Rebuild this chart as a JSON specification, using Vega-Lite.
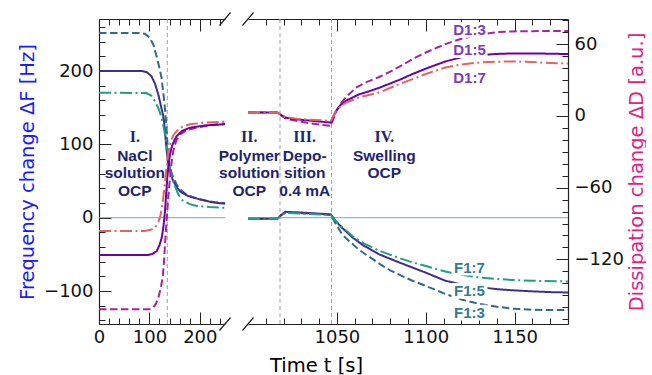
{
  "$schema": "https://vega.github.io/schema/vega-lite/v6.json",
  "padding": {"left": 17, "top": 10, "right": 0, "bottom": 0},
  "bounds": "flush",
  "spacing": 23,
  "config": {
    "view": {"stroke": null},
    "font": "DejaVu Sans",
    "axis": {
      "grid": false, "domainColor": "#222", "domainWidth": 1.2, "tickColor": "#222", "tickWidth": 1,
      "labelFont": "DejaVu Sans", "labelFontSize": 18, "labelColor": "#111",
      "titleFont": "DejaVu Sans", "titleFontSize": 19.5, "titleFontWeight": "normal",
      "labelFlush": false, "labelOverlap": false, "format": "d"
    }
  },
  "datasets": {
    "F": [
      {"s":"F1:3","t":0,"v":252},{"s":"F1:3","t":80,"v":252},{"s":"F1:3","t":91,"v":251},{"s":"F1:3","t":100,"v":246},{"s":"F1:3","t":108,"v":236},{"s":"F1:3","t":115,"v":218},{"s":"F1:3","t":120,"v":204},{"s":"F1:3","t":124,"v":191},{"s":"F1:3","t":128,"v":168},{"s":"F1:3","t":131,"v":148},{"s":"F1:3","t":133,"v":132},{"s":"F1:3","t":135,"v":110},{"s":"F1:3","t":137.5,"v":86},{"s":"F1:3","t":140,"v":72},{"s":"F1:3","t":143,"v":63},{"s":"F1:3","t":147.4,"v":55},{"s":"F1:3","t":155,"v":44},{"s":"F1:3","t":165,"v":36},{"s":"F1:3","t":175,"v":31},{"s":"F1:3","t":190,"v":27},{"s":"F1:3","t":210,"v":23.5},{"s":"F1:3","t":230,"v":21},{"s":"F1:3","t":250,"v":20},
      {"s":"F1:3","t":1000,"v":-1.5},{"s":"F1:3","t":1016.6,"v":-1.5},{"s":"F1:3","t":1018.5,"v":3},{"s":"F1:3","t":1021,"v":7},{"s":"F1:3","t":1030,"v":6},{"s":"F1:3","t":1040,"v":5},{"s":"F1:3","t":1046.6,"v":3.5},{"s":"F1:3","t":1049.5,"v":-9},{"s":"F1:3","t":1053,"v":-23},{"s":"F1:3","t":1057,"v":-32},{"s":"F1:3","t":1062,"v":-43},{"s":"F1:3","t":1068,"v":-53},{"s":"F1:3","t":1074,"v":-63},{"s":"F1:3","t":1080,"v":-72},{"s":"F1:3","t":1092.5,"v":-86},{"s":"F1:3","t":1100,"v":-93},{"s":"F1:3","t":1111,"v":-104},{"s":"F1:3","t":1120,"v":-111.5},{"s":"F1:3","t":1130,"v":-117.5},{"s":"F1:3","t":1140,"v":-121.5},{"s":"F1:3","t":1148.7,"v":-124},{"s":"F1:3","t":1160,"v":-125.5},{"s":"F1:3","t":1170,"v":-126},{"s":"F1:3","t":1180,"v":-126},
      {"s":"F1:5","t":0,"v":200},{"s":"F1:5","t":85,"v":200},{"s":"F1:5","t":95,"v":198.5},{"s":"F1:5","t":104,"v":193},{"s":"F1:5","t":111,"v":183},{"s":"F1:5","t":117.7,"v":168},{"s":"F1:5","t":123,"v":152},{"s":"F1:5","t":127,"v":140},{"s":"F1:5","t":129,"v":132},{"s":"F1:5","t":131.5,"v":113},{"s":"F1:5","t":134.3,"v":91},{"s":"F1:5","t":137,"v":76},{"s":"F1:5","t":140.9,"v":64},{"s":"F1:5","t":146,"v":52},{"s":"F1:5","t":152,"v":44},{"s":"F1:5","t":160.7,"v":36},{"s":"F1:5","t":175,"v":30},{"s":"F1:5","t":200,"v":25},{"s":"F1:5","t":225,"v":21},{"s":"F1:5","t":250,"v":19},
      {"s":"F1:5","t":1000,"v":-1.5},{"s":"F1:5","t":1016.6,"v":-1.5},{"s":"F1:5","t":1018.5,"v":3.5},{"s":"F1:5","t":1021,"v":8},{"s":"F1:5","t":1030,"v":7},{"s":"F1:5","t":1040,"v":5.5},{"s":"F1:5","t":1046.6,"v":4.5},{"s":"F1:5","t":1049.5,"v":-5},{"s":"F1:5","t":1053,"v":-14},{"s":"F1:5","t":1058.8,"v":-27},{"s":"F1:5","t":1065,"v":-38},{"s":"F1:5","t":1073.8,"v":-50},{"s":"F1:5","t":1085,"v":-61},{"s":"F1:5","t":1092.5,"v":-68},{"s":"F1:5","t":1100,"v":-75},{"s":"F1:5","t":1111,"v":-86},{"s":"F1:5","t":1120,"v":-91},{"s":"F1:5","t":1130,"v":-94.5},{"s":"F1:5","t":1140,"v":-97.5},{"s":"F1:5","t":1148.7,"v":-99},{"s":"F1:5","t":1160,"v":-100.5},{"s":"F1:5","t":1170,"v":-101.5},{"s":"F1:5","t":1180,"v":-102},
      {"s":"F1:7","t":0,"v":170.5},{"s":"F1:7","t":94,"v":170},{"s":"F1:7","t":103,"v":167},{"s":"F1:7","t":111,"v":159},{"s":"F1:7","t":118,"v":149},{"s":"F1:7","t":124.4,"v":136},{"s":"F1:7","t":129,"v":121},{"s":"F1:7","t":132,"v":109},{"s":"F1:7","t":134.3,"v":100},{"s":"F1:7","t":137.5,"v":83},{"s":"F1:7","t":140.9,"v":68},{"s":"F1:7","t":145,"v":55},{"s":"F1:7","t":150,"v":44},{"s":"F1:7","t":157.3,"v":32},{"s":"F1:7","t":165,"v":24},{"s":"F1:7","t":180,"v":18.5},{"s":"F1:7","t":193.8,"v":16},{"s":"F1:7","t":220,"v":14.5},{"s":"F1:7","t":250,"v":13.5},
      {"s":"F1:7","t":1000,"v":-1.5},{"s":"F1:7","t":1016.6,"v":-1.5},{"s":"F1:7","t":1018.5,"v":2.5},{"s":"F1:7","t":1021,"v":6.5},{"s":"F1:7","t":1030,"v":5.5},{"s":"F1:7","t":1040,"v":4.5},{"s":"F1:7","t":1046.6,"v":3.5},{"s":"F1:7","t":1049.5,"v":-5},{"s":"F1:7","t":1053,"v":-13},{"s":"F1:7","t":1058.8,"v":-25},{"s":"F1:7","t":1065,"v":-35},{"s":"F1:7","t":1073.8,"v":-45},{"s":"F1:7","t":1085,"v":-55},{"s":"F1:7","t":1092.5,"v":-61},{"s":"F1:7","t":1100,"v":-66},{"s":"F1:7","t":1111,"v":-73.5},{"s":"F1:7","t":1120,"v":-78},{"s":"F1:7","t":1130,"v":-81.5},{"s":"F1:7","t":1140,"v":-83.5},{"s":"F1:7","t":1148.7,"v":-85},{"s":"F1:7","t":1160,"v":-86},{"s":"F1:7","t":1180,"v":-87}
    ],
    "D": [
      {"s":"D1:3","t":0,"v":-161.7},{"s":"D1:3","t":100,"v":-161.7},{"s":"D1:3","t":108,"v":-160},{"s":"D1:3","t":113,"v":-157},{"s":"D1:3","t":117.7,"v":-152},{"s":"D1:3","t":122,"v":-145},{"s":"D1:3","t":126.4,"v":-135},{"s":"D1:3","t":129,"v":-122},{"s":"D1:3","t":131,"v":-107},{"s":"D1:3","t":133.3,"v":-93},{"s":"D1:3","t":135.5,"v":-79.5},{"s":"D1:3","t":138,"v":-65},{"s":"D1:3","t":140.9,"v":-51.7},{"s":"D1:3","t":144,"v":-39},{"s":"D1:3","t":147.4,"v":-29.3},{"s":"D1:3","t":153,"v":-21},{"s":"D1:3","t":160.7,"v":-15.4},{"s":"D1:3","t":175,"v":-11.8},{"s":"D1:3","t":193.8,"v":-9.9},{"s":"D1:3","t":220,"v":-7.8},{"s":"D1:3","t":250,"v":-6.3},
      {"s":"D1:3","t":1000,"v":2.8},{"s":"D1:3","t":1016.6,"v":2.8},{"s":"D1:3","t":1018.5,"v":0.5},{"s":"D1:3","t":1021,"v":-2},{"s":"D1:3","t":1025,"v":-3.5},{"s":"D1:3","t":1030,"v":-5},{"s":"D1:3","t":1038,"v":-6.8},{"s":"D1:3","t":1046.6,"v":-8.4},{"s":"D1:3","t":1049.4,"v":3},{"s":"D1:3","t":1052,"v":10},{"s":"D1:3","t":1055,"v":15.5},{"s":"D1:3","t":1060.7,"v":23.5},{"s":"D1:3","t":1067,"v":28.5},{"s":"D1:3","t":1073.8,"v":32.5},{"s":"D1:3","t":1080,"v":37},{"s":"D1:3","t":1085,"v":41},{"s":"D1:3","t":1092.5,"v":47.5},{"s":"D1:3","t":1100,"v":53},{"s":"D1:3","t":1111,"v":60},{"s":"D1:3","t":1120,"v":64.5},{"s":"D1:3","t":1130,"v":68},{"s":"D1:3","t":1140,"v":70},{"s":"D1:3","t":1148.7,"v":70.6},{"s":"D1:3","t":1165,"v":71},{"s":"D1:3","t":1180,"v":71},
      {"s":"D1:5","t":0,"v":-116.3},{"s":"D1:5","t":97,"v":-116.3},{"s":"D1:5","t":106,"v":-115.5},{"s":"D1:5","t":114.5,"v":-113},{"s":"D1:5","t":120,"v":-108},{"s":"D1:5","t":124.4,"v":-102},{"s":"D1:5","t":128,"v":-92},{"s":"D1:5","t":131,"v":-79.5},{"s":"D1:5","t":133.3,"v":-65},{"s":"D1:5","t":135.5,"v":-51.7},{"s":"D1:5","t":138,"v":-41},{"s":"D1:5","t":140.9,"v":-32.2},{"s":"D1:5","t":145,"v":-25},{"s":"D1:5","t":150,"v":-20},{"s":"D1:5","t":154.2,"v":-16.8},{"s":"D1:5","t":165,"v":-12.5},{"s":"D1:5","t":180.6,"v":-9.9},{"s":"D1:5","t":210,"v":-8},{"s":"D1:5","t":250,"v":-7},
      {"s":"D1:5","t":1000,"v":2.8},{"s":"D1:5","t":1016.6,"v":2.8},{"s":"D1:5","t":1018.5,"v":0.8},{"s":"D1:5","t":1021,"v":-1.4},{"s":"D1:5","t":1025,"v":-2.5},{"s":"D1:5","t":1035,"v":-4},{"s":"D1:5","t":1046.6,"v":-5.6},{"s":"D1:5","t":1049.4,"v":4},{"s":"D1:5","t":1052,"v":9},{"s":"D1:5","t":1055,"v":12.6},{"s":"D1:5","t":1062.5,"v":18},{"s":"D1:5","t":1068,"v":20.5},{"s":"D1:5","t":1073.8,"v":23.5},{"s":"D1:5","t":1085,"v":30},{"s":"D1:5","t":1092.5,"v":35},{"s":"D1:5","t":1100,"v":39.5},{"s":"D1:5","t":1111,"v":45.5},{"s":"D1:5","t":1120,"v":49},{"s":"D1:5","t":1130,"v":50.8},{"s":"D1:5","t":1140,"v":51.8},{"s":"D1:5","t":1148.7,"v":52.2},{"s":"D1:5","t":1160,"v":52.2},{"s":"D1:5","t":1170,"v":52},{"s":"D1:5","t":1180,"v":51.7},
      {"s":"D1:7","t":0,"v":-96.2},{"s":"D1:7","t":90,"v":-96.2},{"s":"D1:7","t":101,"v":-95.5},{"s":"D1:7","t":111,"v":-93.5},{"s":"D1:7","t":117,"v":-89.5},{"s":"D1:7","t":120.9,"v":-85.1},{"s":"D1:7","t":124.5,"v":-78},{"s":"D1:7","t":127.6,"v":-68.4},{"s":"D1:7","t":130.5,"v":-57},{"s":"D1:7","t":133,"v":-46.1},{"s":"D1:7","t":137,"v":-33},{"s":"D1:7","t":140.9,"v":-23.7},{"s":"D1:7","t":147,"v":-16.5},{"s":"D1:7","t":154.2,"v":-12.6},{"s":"D1:7","t":165,"v":-9.2},{"s":"D1:7","t":180.6,"v":-7},{"s":"D1:7","t":210,"v":-5.6},{"s":"D1:7","t":250,"v":-4.8},
      {"s":"D1:7","t":1000,"v":2.8},{"s":"D1:7","t":1016.6,"v":2.8},{"s":"D1:7","t":1018.5,"v":1},{"s":"D1:7","t":1021,"v":-1},{"s":"D1:7","t":1028,"v":-2.5},{"s":"D1:7","t":1035,"v":-3.2},{"s":"D1:7","t":1046.6,"v":-4.2},{"s":"D1:7","t":1049.4,"v":4},{"s":"D1:7","t":1052,"v":8},{"s":"D1:7","t":1055,"v":11},{"s":"D1:7","t":1062.5,"v":15.5},{"s":"D1:7","t":1068,"v":17.5},{"s":"D1:7","t":1073.8,"v":19.5},{"s":"D1:7","t":1085,"v":26.5},{"s":"D1:7","t":1092.5,"v":30.7},{"s":"D1:7","t":1100,"v":35},{"s":"D1:7","t":1111,"v":40.5},{"s":"D1:7","t":1120,"v":43},{"s":"D1:7","t":1130,"v":44.6},{"s":"D1:7","t":1140,"v":45.3},{"s":"D1:7","t":1148.7,"v":45.5},{"s":"D1:7","t":1160,"v":45},{"s":"D1:7","t":1170,"v":44.3},{"s":"D1:7","t":1180,"v":43.8}
    ],
    "phases": [{"t": 135.5}, {"t": 1018}, {"t": 1047}],
    "zero": [{"v": 0}],
    "notes": [
      {"t":71,"v":103,"text":"I.","kind":"head"},{"t":71,"v":78,"text":"NaCl","kind":"body"},{"t":71,"v":53.5,"text":"solution","kind":"body"},{"t":71,"v":29,"text":"OCP","kind":"body"},
      {"t":1000.7,"v":103,"text":"II.","kind":"head"},{"t":1000.7,"v":78,"text":"Polymer","kind":"body"},{"t":1000.7,"v":53.5,"text":"solution","kind":"body"},{"t":1000.7,"v":29,"text":"OCP","kind":"body"},
      {"t":1031.9,"v":103,"text":"III.","kind":"head"},{"t":1031.9,"v":78,"text":"Depo-","kind":"body"},{"t":1031.9,"v":53.5,"text":"sition","kind":"body"},{"t":1031.9,"v":29,"text":"0.4 mA","kind":"body"},
      {"t":1076.7,"v":103,"text":"IV.","kind":"head"},{"t":1076.7,"v":78,"text":"Swelling","kind":"body"},{"t":1076.7,"v":53.5,"text":"OCP","kind":"body"}
    ],
    "Flabels": [{"t":1124.6,"v":-75,"text":"F1:7"},{"t":1124.6,"v":-106.8,"text":"F1:5"},{"t":1124.6,"v":-136.4,"text":"F1:3"}],
    "Dlabels": [{"t":1124.6,"v":67.6,"text":"D1:3"},{"t":1124.6,"v":50.7,"text":"D1:5"},{"t":1124.6,"v":27.8,"text":"D1:7"}],
    "breaks": [{"t":250,"v":271},{"t":250,"v":-145},{"t":1000,"v":271},{"t":1000,"v":-145}]
  },
  "hconcat": [
    {
      "width": 126, "height": 305,
      "resolve": {"scale": {"y": "independent"}, "axis": {"x": "independent", "y": "independent"}},
      "layer": [
        {"data": {"name": "zero"}, "mark": {"type": "rule", "color": "#6f9ff2", "strokeWidth": 1},
         "encoding": {"y": {"field": "v", "type": "quantitative", "scale": {"domain": [-145, 271], "nice": false, "zero": false}, "axis": null}}},
        {"data": {"name": "phases"}, "transform": [{"filter": "datum.t <= 250"}], "mark": {"type": "rule", "color": "#a0a0a0", "strokeDash": [4, 3], "strokeWidth": 1},
         "encoding": {"x": {"field": "t", "type": "quantitative", "scale": {"domain": [0, 250], "nice": false, "zero": false}, "axis": null}}},
        {
          "encoding": {
            "x": {"field": "t", "type": "quantitative", "scale": {"domain": [0, 250], "nice": false, "zero": false},
                  "axis": {"orient": "bottom", "title": null, "values": [0,20,40,60,80,100,120,140,160,180,200,220,240],
                           "labelExpr": "datum.value % 100 === 0 ? datum.label : ''",
                           "tickSize": {"condition": {"test": "datum.value % 100 === 0", "value": -12}, "value": -6},
                           "labelPadding": 16}},
            "y": {"field": "v", "type": "quantitative", "scale": {"domain": [-145, 271], "nice": false, "zero": false},
                  "axis": {"orient": "left", "title": "Frequency change ΔF [Hz]", "titleColor": "#1a1aff", "titlePadding": 6,
                           "values": [-140,-120,-100,-80,-60,-40,-20,0,20,40,60,80,100,120,140,160,180,200,220,240,260],
                           "labelExpr": "datum.value % 100 === 0 ? datum.label : ''",
                           "tickSize": {"condition": {"test": "datum.value % 100 === 0", "value": -12}, "value": -6},
                           "labelPadding": 18}}
          },
          "layer": [
            {"data": {"name": "F"}, "transform": [{"filter": "datum.t <= 250"}], "mark": {"type": "line", "strokeWidth": 2},
             "encoding": {
               "color": {"field": "s", "type": "nominal", "legend": null,
                         "scale": {"domain": ["F1:3","F1:5","F1:7","D1:3","D1:5","D1:7"], "range": ["#31688e","#3f2f88","#1f9e89","#a6239b","#6a00a8","#e16462"]}},
               "strokeDash": {"field": "s", "type": "nominal", "legend": null,
                         "scale": {"domain": ["F1:3","F1:5","F1:7","D1:3","D1:5","D1:7"], "range": [[7.5,3.5],[1,0],[12,3.5,2,3.5],[7.5,3.5],[1,0],[12,3.5,2,3.5]]}}
             }},
            {"data": {"name": "notes"}, "transform": [{"filter": "datum.t <= 250 && datum.kind === 'head'"}],
             "mark": {"type": "text", "align": "center", "baseline": "alphabetic", "font": "Liberation Serif", "fontWeight": "bold", "fontSize": 16, "color": "#1d2470"},
             "encoding": {"text": {"field": "text"}}},
            {"data": {"name": "notes"}, "transform": [{"filter": "datum.t <= 250 && datum.kind === 'body'"}],
             "mark": {"type": "text", "align": "center", "baseline": "alphabetic", "font": "Liberation Sans", "fontWeight": "bold", "fontSize": 15.5, "color": "#1d2470"},
             "encoding": {"text": {"field": "text"}}},
            {"data": {"name": "breaks"}, "transform": [{"filter": "datum.t <= 250"}],
             "mark": {"type": "point", "shape": "M -0.85 1 L 0.85 -1", "filled": false, "stroke": "#222", "strokeWidth": 1.2, "size": 169, "opacity": 1}}
          ]
        },
        {
          "encoding": {
            "x": {"field": "t", "type": "quantitative", "scale": {"domain": [0, 250], "nice": false, "zero": false},
                  "axis": {"orient": "top", "title": null, "labels": false, "values": [0,20,40,60,80,100,120,140,160,180,200,220,240],
                           "tickSize": {"condition": {"test": "datum.value % 100 === 0", "value": -12}, "value": -6}}},
            "y": {"field": "v", "type": "quantitative", "scale": {"domain": [-174, 81], "nice": false, "zero": false}, "axis": null}
          },
          "layer": [
            {"data": {"name": "D"}, "transform": [{"filter": "datum.t <= 250"}], "mark": {"type": "line", "strokeWidth": 2},
             "encoding": {
               "color": {"field": "s", "type": "nominal", "legend": null},
               "strokeDash": {"field": "s", "type": "nominal", "legend": null}
             }}
          ]
        }
      ]
    },
    {
      "width": 320, "height": 305,
      "resolve": {"scale": {"y": "independent"}, "axis": {"x": "independent", "y": "independent"}},
      "layer": [
        {"data": {"name": "zero"}, "mark": {"type": "rule", "color": "#6f9ff2", "strokeWidth": 1},
         "encoding": {"y": {"field": "v", "type": "quantitative", "scale": {"domain": [-145, 271], "nice": false, "zero": false}, "axis": null}}},
        {"data": {"name": "phases"}, "transform": [{"filter": "datum.t >= 1000"}], "mark": {"type": "rule", "color": "#a0a0a0", "strokeDash": [4, 3], "strokeWidth": 1},
         "encoding": {"x": {"field": "t", "type": "quantitative", "scale": {"domain": [1000, 1180], "nice": false, "zero": false}, "axis": null}}},
        {
          "encoding": {
            "x": {"field": "t", "type": "quantitative", "scale": {"domain": [1000, 1180], "nice": false, "zero": false},
                  "axis": {"orient": "bottom", "title": "Time t [s]", "titleX": 68, "titleY": 32, "titleAlign": "center", "titleBaseline": "top",
                           "values": [1010,1020,1030,1040,1050,1060,1070,1080,1090,1100,1110,1120,1130,1140,1150,1160,1170],
                           "labelExpr": "datum.value % 50 === 0 ? datum.label : ''",
                           "tickSize": {"condition": {"test": "datum.value % 50 === 0", "value": -12}, "value": -6},
                           "labelPadding": 16}},
            "y": {"field": "v", "type": "quantitative", "scale": {"domain": [-145, 271], "nice": false, "zero": false}, "axis": null}
          },
          "layer": [
            {"data": {"name": "F"}, "transform": [{"filter": "datum.t >= 1000"}], "mark": {"type": "line", "strokeWidth": 2},
             "encoding": {
               "color": {"field": "s", "type": "nominal", "legend": null},
               "strokeDash": {"field": "s", "type": "nominal", "legend": null}
             }},
            {"data": {"name": "notes"}, "transform": [{"filter": "datum.t >= 1000 && datum.kind === 'head'"}],
             "mark": {"type": "text", "align": "center", "baseline": "alphabetic", "font": "Liberation Serif", "fontWeight": "bold", "fontSize": 16, "color": "#1d2470"},
             "encoding": {"text": {"field": "text"}}},
            {"data": {"name": "notes"}, "transform": [{"filter": "datum.t >= 1000 && datum.kind === 'body'"}],
             "mark": {"type": "text", "align": "center", "baseline": "alphabetic", "font": "Liberation Sans", "fontWeight": "bold", "fontSize": 15.5, "color": "#1d2470"},
             "encoding": {"text": {"field": "text"}}},
            {"data": {"name": "Flabels"},
             "mark": {"type": "point", "shape": "M -2 -1.45 L 2 -1.45 L 2 0.3 L -2 0.3 Z", "filled": true, "fill": "white", "strokeWidth": 0, "size": 324, "opacity": 1}},
            {"data": {"name": "Flabels"},
             "mark": {"type": "text", "align": "center", "baseline": "alphabetic", "font": "Liberation Sans", "fontWeight": "bold", "fontSize": 15, "color": "#2e7b9d"},
             "encoding": {"text": {"field": "text"}}},
            {"data": {"name": "breaks"}, "transform": [{"filter": "datum.t >= 1000"}],
             "mark": {"type": "point", "shape": "M -0.85 1 L 0.85 -1", "filled": false, "stroke": "#222", "strokeWidth": 1.2, "size": 169, "opacity": 1}}
          ]
        },
        {
          "encoding": {
            "x": {"field": "t", "type": "quantitative", "scale": {"domain": [1000, 1180], "nice": false, "zero": false},
                  "axis": {"orient": "top", "title": null, "labels": false,
                           "values": [1010,1020,1030,1040,1050,1060,1070,1080,1090,1100,1110,1120,1130,1140,1150,1160,1170],
                           "tickSize": {"condition": {"test": "datum.value % 50 === 0", "value": -12}, "value": -6}}},
            "y": {"field": "v", "type": "quantitative", "scale": {"domain": [-174, 81], "nice": false, "zero": false},
                  "axis": {"orient": "right", "title": "Dissipation change ΔD [a.u.]", "titleColor": "#e0208a", "titleAngle": 270, "titleBaseline": "top", "titlePadding": 4,
                           "values": [-170,-160,-150,-140,-130,-120,-110,-100,-90,-80,-70,-60,-50,-40,-30,-20,-10,0,10,20,30,40,50,60,70,80],
                           "labelExpr": "datum.value % 60 === 0 ? datum.label : ''",
                           "tickSize": {"condition": {"test": "datum.value % 60 === 0", "value": -12}, "value": -6},
                           "labelPadding": 18}}
          },
          "layer": [
            {"data": {"name": "D"}, "transform": [{"filter": "datum.t >= 1000"}], "mark": {"type": "line", "strokeWidth": 2},
             "encoding": {
               "color": {"field": "s", "type": "nominal", "legend": null},
               "strokeDash": {"field": "s", "type": "nominal", "legend": null}
             }},
            {"data": {"name": "Dlabels"},
             "mark": {"type": "point", "shape": "M -2 -1.45 L 2 -1.45 L 2 0.3 L -2 0.3 Z", "filled": true, "fill": "white", "strokeWidth": 0, "size": 324, "opacity": 1}},
            {"data": {"name": "Dlabels"},
             "mark": {"type": "text", "align": "center", "baseline": "alphabetic", "font": "Liberation Sans", "fontWeight": "bold", "fontSize": 15, "color": "#7c3bbd"},
             "encoding": {"text": {"field": "text"}}}
          ]
        }
      ]
    }
  ]
}
